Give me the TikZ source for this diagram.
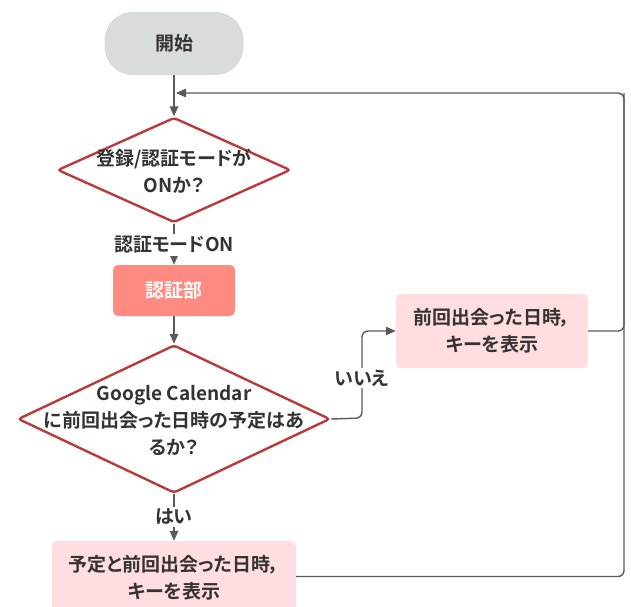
\documentclass[tikz,border=0pt]{standalone}
\usepackage{fontspec}
\setmainfont{Noto Sans CJK JP}[BoldFont={Noto Sans CJK JP Bold},RawFeature=+palt]
\usetikzlibrary{shapes.geometric,arrows.meta}
\definecolor{dred}{HTML}{B83A3C}
\definecolor{salmon}{HTML}{FF8A82}
\definecolor{lpink}{HTML}{FFDDE0}
\definecolor{sgray}{HTML}{D9DCDD}
\definecolor{lgray}{HTML}{5A5A5A}
\definecolor{tx}{HTML}{333333}
\begin{document}
\begin{tikzpicture}[x=1pt,y=-1pt,
  every node/.style={font=\fontsize{19}{27}\selectfont\bfseries, text=tx, inner sep=0pt, align=center},
  startbox/.style={fill=sgray, rounded corners=28pt, minimum width=139pt, minimum height=63pt},
  dia/.style={diamond, draw=dred, line width=2.4pt, fill=white, rounded corners=3pt},
  procA/.style={fill=salmon, rounded corners=5pt, text=white},
  procB/.style={fill=lpink, rounded corners=5pt},
  conn/.style={draw=lgray, line width=1.4pt, -{Triangle[length=10pt,width=8.5pt]}},
  plain/.style={draw=lgray, line width=1.4pt},
  elabel/.style={fill=white, inner sep=2pt}
]
\useasboundingbox (0,0) rectangle (631,606);
\clip (0,0) rectangle (631,606);

% nodes
\node[startbox] (start) at (174,43.5) {開始};
\node[dia, minimum width=233pt, minimum height=105pt] (d1) at (174,170) {};
\node (t1) at (174,171) {登録/認証モードが\\ONか？};
\node[procA, minimum width=122pt, minimum height=51pt] (b1) at (174,290.5) {認証部};
\node[dia, minimum width=312pt, minimum height=148pt] (d2) at (174,419) {};
\node (t2) at (174,420) {Google Calendar\\に前回出会った日時の予定はあ\\るか？};
\node[procB, minimum width=192pt, minimum height=74pt] (b2) at (492,331) {};
\node (t3) at (492,331) {前回出会った日時，\\キーを表示};
\node[procB, minimum width=244pt, minimum height=71pt] (b3) at (174,576.5) {};
\node (t4) at (174,578) {予定と前回出会った日時，\\キーを表示};

% coordinates
\coordinate (mj) at (176,93);
\coordinate (rtop) at (624,93);
\coordinate (nx) at (362,418);

% connectors
\draw[conn] (start) -- (d1.north);
\draw[conn] (d1.south) -- (b1.north);
\node[elabel] (l1) at (174,245) {認証モードON};
\draw[conn] (b1.south) -- (d2.north);
\draw[conn, rounded corners=6pt] (d2.east) -- (nx) -- (nx |- b2.west) -- (b2.west);
\node[elabel] (l2) at (362,378) {いいえ};
\draw[conn] (d2.south) -- (b3.north);
\node[elabel] (l3) at (174,517) {はい};
\draw[conn, rounded corners=6pt] (b2.east) -- (b2.east -| rtop) -- (rtop) -- (mj);
\draw[plain, rounded corners=6pt] (b3.east) -- (b3.east -| rtop) -- (rtop);
\end{tikzpicture}
\end{document}
